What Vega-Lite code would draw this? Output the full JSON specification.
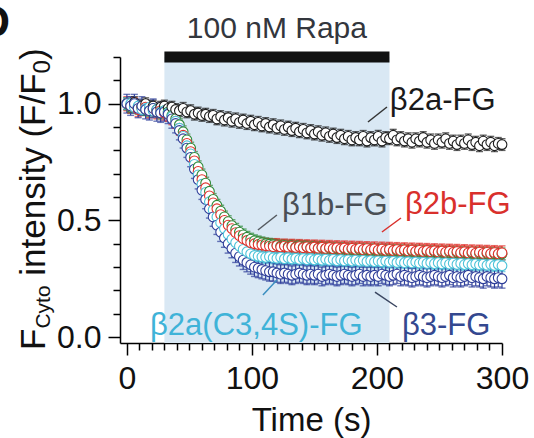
{
  "$schema": "https://vega.github.io/schema/vega-lite/v6.json",
  "width": 382,
  "height": 286,
  "autosize": {"type": "none"},
  "padding": {"left": 120, "top": 57, "right": 32, "bottom": 95},
  "background": "white",
  "config": {"view": {"stroke": null}, "font": "Liberation Sans",
    "axis": {"grid": false, "domainColor": "#000", "domainWidth": 1.5, "tickColor": "#000", "tickWidth": 1.5,
      "labelFont": "Liberation Sans", "labelFontSize": 32, "labelColor": "#111", "labelOverlap": false, "labelFlush": false,
      "titleFont": "Liberation Sans", "titleFontSize": 33, "titleFontWeight": "normal", "titleColor": "#111"}},
  "resolve": {"axis": {"x": "independent", "y": "independent"}},
  "datasets": {
    "main": [
      {"t":0,"a":1.00,"b":1.00,"r":1.00,"c":1.00,"d":1.00},
      {"t":3,"a":0.99,"b":0.985,"r":0.99,"c":1.00,"d":0.99},
      {"t":6,"a":1.005,"b":0.99,"r":0.995,"c":0.985,"d":1.00},
      {"t":9,"a":0.985,"b":0.98,"r":0.975,"c":0.99,"d":0.98},
      {"t":12,"a":0.99,"b":0.985,"r":0.98,"c":0.975,"d":0.99},
      {"t":15,"a":1.00,"b":0.975,"r":0.985,"c":0.98,"d":0.975},
      {"t":18,"a":0.98,"b":0.97,"r":0.97,"c":0.985,"d":0.97},
      {"t":21,"a":0.99,"b":0.98,"r":0.975,"c":0.97,"d":0.98},
      {"t":24,"a":0.975,"b":0.97,"r":0.965,"c":0.975,"d":0.965},
      {"t":27,"a":0.985,"b":0.96,"r":0.97,"c":0.965,"d":0.96},
      {"t":30,"a":0.99,"b":0.97,"r":0.96,"c":0.97,"d":0.965},
      {"t":33,"a":0.98,"b":0.965,"r":0.955,"c":0.96,"d":0.955},
      {"t":36,"a":0.985,"b":0.95,"r":0.94,"c":0.945,"d":0.935},
      {"t":39,"a":0.975,"b":0.935,"r":0.925,"c":0.925,"d":0.915},
      {"t":42,"a":0.97,"b":0.91,"r":0.895,"c":0.895,"d":0.885},
      {"t":45,"a":0.98,"b":0.88,"r":0.865,"c":0.86,"d":0.85},
      {"t":48,"a":0.965,"b":0.845,"r":0.83,"c":0.82,"d":0.81},
      {"t":51,"a":0.97,"b":0.81,"r":0.795,"c":0.785,"d":0.77},
      {"t":54,"a":0.955,"b":0.77,"r":0.755,"c":0.74,"d":0.72},
      {"t":57,"a":0.96,"b":0.73,"r":0.71,"c":0.695,"d":0.675},
      {"t":60,"a":0.95,"b":0.695,"r":0.675,"c":0.655,"d":0.63},
      {"t":63,"a":0.955,"b":0.66,"r":0.64,"c":0.62,"d":0.59},
      {"t":66,"a":0.945,"b":0.625,"r":0.605,"c":0.58,"d":0.55},
      {"t":69,"a":0.95,"b":0.59,"r":0.575,"c":0.545,"d":0.515},
      {"t":72,"a":0.935,"b":0.565,"r":0.55,"c":0.515,"d":0.48},
      {"t":75,"a":0.945,"b":0.54,"r":0.525,"c":0.49,"d":0.45},
      {"t":78,"a":0.93,"b":0.515,"r":0.5,"c":0.465,"d":0.425},
      {"t":81,"a":0.94,"b":0.495,"r":0.48,"c":0.44,"d":0.40},
      {"t":84,"a":0.925,"b":0.478,"r":0.465,"c":0.42,"d":0.38},
      {"t":87,"a":0.935,"b":0.462,"r":0.448,"c":0.405,"d":0.36},
      {"t":90,"a":0.92,"b":0.45,"r":0.435,"c":0.39,"d":0.345},
      {"t":93,"a":0.93,"b":0.438,"r":0.422,"c":0.376,"d":0.33},
      {"t":96,"a":0.915,"b":0.428,"r":0.414,"c":0.366,"d":0.32},
      {"t":99,"a":0.925,"b":0.42,"r":0.405,"c":0.357,"d":0.31},
      {"t":102,"a":0.91,"b":0.413,"r":0.40,"c":0.35,"d":0.30},
      {"t":105,"a":0.92,"b":0.408,"r":0.397,"c":0.347,"d":0.295},
      {"t":108,"a":0.905,"b":0.404,"r":0.395,"c":0.344,"d":0.29},
      {"t":111,"a":0.915,"b":0.40,"r":0.392,"c":0.342,"d":0.285},
      {"t":114,"a":0.90,"b":0.398,"r":0.39,"c":0.345,"d":0.28},
      {"t":117,"a":0.91,"b":0.396,"r":0.388,"c":0.34,"d":0.28},
      {"t":120,"a":0.895,"b":0.394,"r":0.392,"c":0.338,"d":0.275},
      {"t":123,"a":0.905,"b":0.39,"r":0.386,"c":0.342,"d":0.27},
      {"t":126,"a":0.89,"b":0.393,"r":0.39,"c":0.336,"d":0.275},
      {"t":129,"a":0.90,"b":0.388,"r":0.385,"c":0.34,"d":0.27},
      {"t":132,"a":0.885,"b":0.391,"r":0.389,"c":0.335,"d":0.265},
      {"t":135,"a":0.895,"b":0.386,"r":0.384,"c":0.338,"d":0.27},
      {"t":138,"a":0.88,"b":0.39,"r":0.388,"c":0.333,"d":0.275},
      {"t":141,"a":0.89,"b":0.385,"r":0.383,"c":0.337,"d":0.27},
      {"t":144,"a":0.875,"b":0.388,"r":0.387,"c":0.332,"d":0.265},
      {"t":147,"a":0.885,"b":0.383,"r":0.382,"c":0.336,"d":0.27},
      {"t":150,"a":0.87,"b":0.386,"r":0.386,"c":0.331,"d":0.265},
      {"t":153,"a":0.88,"b":0.381,"r":0.381,"c":0.335,"d":0.27},
      {"t":156,"a":0.865,"b":0.384,"r":0.385,"c":0.33,"d":0.26},
      {"t":159,"a":0.875,"b":0.379,"r":0.38,"c":0.334,"d":0.265},
      {"t":162,"a":0.86,"b":0.382,"r":0.384,"c":0.329,"d":0.27},
      {"t":165,"a":0.87,"b":0.377,"r":0.379,"c":0.333,"d":0.265},
      {"t":168,"a":0.855,"b":0.38,"r":0.383,"c":0.328,"d":0.26},
      {"t":171,"a":0.865,"b":0.376,"r":0.378,"c":0.332,"d":0.265},
      {"t":174,"a":0.85,"b":0.379,"r":0.382,"c":0.327,"d":0.27},
      {"t":177,"a":0.86,"b":0.374,"r":0.377,"c":0.331,"d":0.265},
      {"t":180,"a":0.845,"b":0.377,"r":0.381,"c":0.326,"d":0.26},
      {"t":183,"a":0.855,"b":0.373,"r":0.376,"c":0.33,"d":0.265},
      {"t":186,"a":0.845,"b":0.376,"r":0.38,"c":0.325,"d":0.27},
      {"t":189,"a":0.86,"b":0.372,"r":0.375,"c":0.329,"d":0.26},
      {"t":192,"a":0.84,"b":0.375,"r":0.379,"c":0.324,"d":0.265},
      {"t":195,"a":0.855,"b":0.371,"r":0.374,"c":0.328,"d":0.26},
      {"t":198,"a":0.845,"b":0.374,"r":0.378,"c":0.323,"d":0.265},
      {"t":201,"a":0.86,"b":0.37,"r":0.373,"c":0.327,"d":0.26},
      {"t":204,"a":0.84,"b":0.373,"r":0.377,"c":0.322,"d":0.27},
      {"t":207,"a":0.855,"b":0.369,"r":0.372,"c":0.326,"d":0.265},
      {"t":210,"a":0.85,"b":0.372,"r":0.376,"c":0.321,"d":0.26},
      {"t":213,"a":0.865,"b":0.368,"r":0.371,"c":0.325,"d":0.265},
      {"t":216,"a":0.845,"b":0.371,"r":0.375,"c":0.32,"d":0.27},
      {"t":219,"a":0.855,"b":0.367,"r":0.37,"c":0.324,"d":0.26},
      {"t":222,"a":0.84,"b":0.37,"r":0.374,"c":0.319,"d":0.265},
      {"t":225,"a":0.85,"b":0.366,"r":0.369,"c":0.323,"d":0.26},
      {"t":228,"a":0.835,"b":0.369,"r":0.373,"c":0.318,"d":0.255},
      {"t":231,"a":0.85,"b":0.365,"r":0.368,"c":0.322,"d":0.26},
      {"t":234,"a":0.84,"b":0.368,"r":0.372,"c":0.317,"d":0.265},
      {"t":237,"a":0.855,"b":0.364,"r":0.367,"c":0.321,"d":0.26},
      {"t":240,"a":0.835,"b":0.367,"r":0.371,"c":0.316,"d":0.255},
      {"t":243,"a":0.845,"b":0.363,"r":0.366,"c":0.32,"d":0.26},
      {"t":246,"a":0.83,"b":0.366,"r":0.37,"c":0.315,"d":0.265},
      {"t":249,"a":0.845,"b":0.362,"r":0.365,"c":0.319,"d":0.26},
      {"t":252,"a":0.835,"b":0.365,"r":0.369,"c":0.314,"d":0.255},
      {"t":255,"a":0.85,"b":0.361,"r":0.364,"c":0.318,"d":0.26},
      {"t":258,"a":0.83,"b":0.364,"r":0.368,"c":0.313,"d":0.265},
      {"t":261,"a":0.84,"b":0.36,"r":0.363,"c":0.317,"d":0.255},
      {"t":264,"a":0.825,"b":0.363,"r":0.367,"c":0.312,"d":0.26},
      {"t":267,"a":0.84,"b":0.359,"r":0.362,"c":0.316,"d":0.255},
      {"t":270,"a":0.83,"b":0.362,"r":0.366,"c":0.311,"d":0.26},
      {"t":273,"a":0.845,"b":0.358,"r":0.361,"c":0.315,"d":0.265},
      {"t":276,"a":0.825,"b":0.361,"r":0.365,"c":0.31,"d":0.255},
      {"t":279,"a":0.835,"b":0.357,"r":0.36,"c":0.314,"d":0.26},
      {"t":282,"a":0.82,"b":0.36,"r":0.364,"c":0.309,"d":0.255},
      {"t":285,"a":0.84,"b":0.356,"r":0.359,"c":0.313,"d":0.25},
      {"t":288,"a":0.825,"b":0.359,"r":0.363,"c":0.308,"d":0.26},
      {"t":291,"a":0.835,"b":0.355,"r":0.358,"c":0.312,"d":0.255},
      {"t":294,"a":0.82,"b":0.358,"r":0.362,"c":0.307,"d":0.25},
      {"t":297,"a":0.83,"b":0.354,"r":0.357,"c":0.311,"d":0.255},
      {"t":300,"a":0.825,"b":0.357,"r":0.361,"c":0.306,"d":0.25}
    ],
    "sem": [
      {"s":"a","err":0.025},
      {"s":"b","err":0.025},
      {"s":"r","err":0.03},
      {"s":"c","err":0.025},
      {"s":"d","err":0.04}
    ]
  },
  "layer": [
    {
      "data": {"values": [{}]},
      "mark": {"type": "rect", "color": "#d9e8f4"},
      "encoding": {
        "x": {"datum": 30, "type": "quantitative", "scale": {"domain": [-5.5, 300], "nice": false, "zero": false},
          "axis": {
            "values": [0,10,20,30,40,50,60,70,80,90,100,110,120,130,140,150,160,170,180,190,200,210,220,230,240,250,260,270,280,290,300],
            "labelExpr": "datum.value % 100 == 0 ? format(datum.value, 'd') : ''",
            "tickSize": {"condition": {"test": "datum.value % 100 == 0", "value": 12}, "value": 7},
            "labelPadding": 8,
            "title": "Time (s)", "titlePadding": 10
          }},
        "x2": {"datum": 210},
        "y": {"datum": -0.025, "type": "quantitative", "scale": {"domain": [-0.025, 1.2], "nice": false, "zero": false},
          "axis": {
            "values": [0,0.1,0.2,0.3,0.4,0.5,0.6,0.7,0.8,0.9,1.0,1.1,1.2],
            "labelExpr": "abs(datum.value*2 - round(datum.value*2)) < 0.001 ? format(datum.value, '.1f') : ''",
            "tickSize": {"condition": {"test": "abs(datum.value*2 - round(datum.value*2)) < 0.001", "value": 12}, "value": 7},
            "labelPadding": 7,
            "title": null
          }},
        "y2": {"datum": 1.2}
      }
    },
    {
      "data": {"values": [{}]},
      "mark": {"type": "rect", "color": "#111111"},
      "encoding": {
        "x": {"datum": 30, "type": "quantitative", "axis": null},
        "x2": {"datum": 210},
        "y": {"datum": 1.176, "type": "quantitative", "axis": null},
        "y2": {"datum": 1.224}
      }
    },
    {
      "data": {"name": "main"},
      "transform": [
        {"fold": ["a", "b", "r", "c", "d"], "as": ["s", "v"]},
        {"lookup": "s", "from": {"data": {"name": "sem"}, "key": "s", "fields": ["err"]}}
      ],
      "mark": {"type": "errorbar", "ticks": {"size": 7, "thickness": 1.4}, "rule": {"strokeWidth": 1.2}},
      "encoding": {
        "x": {"field": "t", "type": "quantitative", "axis": null},
        "y": {"field": "v", "type": "quantitative", "axis": null},
        "yError": {"field": "err"},
        "color": {"field": "s", "type": "nominal", "legend": null,
          "scale": {"domain": ["a", "b", "r", "c", "d"], "range": ["#1e1e1e", "#2e8b3a", "#e0302a", "#4cc3d9", "#2f3f9a"]}}
      }
    },
    {
      "data": {"name": "main"},
      "transform": [
        {"fold": ["a", "b", "r", "c", "d"], "as": ["s", "v"]}
      ],
      "mark": {"type": "point", "shape": "circle", "fill": "white", "fillOpacity": 1, "strokeWidth": 1.1, "size": 95, "opacity": 1},
      "encoding": {
        "x": {"field": "t", "type": "quantitative", "axis": null},
        "y": {"field": "v", "type": "quantitative", "axis": null},
        "stroke": {"field": "s", "type": "nominal", "legend": null,
          "scale": {"domain": ["a", "b", "r", "c", "d"], "range": ["#1e1e1e", "#2e8b3a", "#e0302a", "#4cc3d9", "#2f3f9a"]}}
      }
    },
    {
      "data": {"values": [{}]},
      "mark": {"type": "rule", "color": "#333333", "strokeWidth": 1.5},
      "encoding": {"x": {"datum": 192.8, "type": "quantitative", "axis": null}, "y": {"datum": 0.9216, "type": "quantitative", "axis": null}, "x2": {"datum": 208}, "y2": {"datum": 0.9858}}
    },
    {
      "data": {"values": [{}]},
      "mark": {"type": "rule", "color": "#555a60", "strokeWidth": 1.5},
      "encoding": {"x": {"datum": 104.8, "type": "quantitative", "axis": null}, "y": {"datum": 0.459, "type": "quantitative", "axis": null}, "x2": {"datum": 120}, "y2": {"datum": 0.5233}}
    },
    {
      "data": {"values": [{}]},
      "mark": {"type": "rule", "color": "#d9302c", "strokeWidth": 1.5},
      "encoding": {"x": {"datum": 204, "type": "quantitative", "axis": null}, "y": {"datum": 0.4504, "type": "quantitative", "axis": null}, "x2": {"datum": 219.2}, "y2": {"datum": 0.5104}}
    },
    {
      "data": {"values": [{}]},
      "mark": {"type": "rule", "color": "#3b8fc0", "strokeWidth": 1.5},
      "encoding": {"x": {"datum": 120, "type": "quantitative", "axis": null}, "y": {"datum": 0.2449, "type": "quantitative", "axis": null}, "x2": {"datum": 108.8}, "y2": {"datum": 0.1806}}
    },
    {
      "data": {"values": [{}]},
      "mark": {"type": "rule", "color": "#3a4660", "strokeWidth": 1.5},
      "encoding": {"x": {"datum": 198.4, "type": "quantitative", "axis": null}, "y": {"datum": 0.1934, "type": "quantitative", "axis": null}, "x2": {"datum": 216}, "y2": {"datum": 0.1292}}
    },
    {
      "data": {"values": [{}]},
      "mark": {"type": "text", "text": "β2a-FG", "font": "Liberation Sans", "fontSize": 31, "color": "#1a1a1a", "align": "left", "baseline": "alphabetic"},
      "encoding": {"x": {"datum": 210.3, "type": "quantitative", "axis": null}, "y": {"datum": 0.973, "type": "quantitative", "axis": null}}
    },
    {
      "data": {"values": [{}]},
      "mark": {"type": "text", "text": "β1b-FG", "font": "Liberation Sans", "fontSize": 31, "color": "#4a4f55", "align": "left", "baseline": "alphabetic"},
      "encoding": {"x": {"datum": 124, "type": "quantitative", "axis": null}, "y": {"datum": 0.5233, "type": "quantitative", "axis": null}}
    },
    {
      "data": {"values": [{}]},
      "mark": {"type": "text", "text": "β2b-FG", "font": "Liberation Sans", "fontSize": 31, "color": "#d9302c", "align": "left", "baseline": "alphabetic"},
      "encoding": {"x": {"datum": 222.4, "type": "quantitative", "axis": null}, "y": {"datum": 0.5275, "type": "quantitative", "axis": null}}
    },
    {
      "data": {"values": [{}]},
      "mark": {"type": "text", "text": "β2a(C3,4S)-FG", "font": "Liberation Sans", "fontSize": 31, "color": "#3fb3d8", "align": "left", "baseline": "alphabetic"},
      "encoding": {"x": {"datum": 18.5, "type": "quantitative", "axis": null}, "y": {"datum": 0.0093, "type": "quantitative", "axis": null}}
    },
    {
      "data": {"values": [{}]},
      "mark": {"type": "text", "text": "β3-FG", "font": "Liberation Sans", "fontSize": 31, "color": "#34488f", "align": "left", "baseline": "alphabetic"},
      "encoding": {"x": {"datum": 220, "type": "quantitative", "axis": null}, "y": {"datum": 0.0093, "type": "quantitative", "axis": null}}
    },
    {
      "data": {"values": [{}]},
      "mark": {"type": "text", "text": "100 nM Rapa", "font": "Liberation Sans", "fontSize": 30, "color": "#33363d", "align": "center", "baseline": "alphabetic"},
      "encoding": {"x": {"datum": 120, "type": "quantitative", "axis": null}, "y": {"datum": 1.2814, "type": "quantitative", "axis": null}}
    },
    {
      "data": {"values": [{}]},
      "mark": {"type": "text", "text": "D", "font": "Liberation Sans", "fontSize": 44, "fontWeight": "bold", "color": "#111", "align": "right", "baseline": "alphabetic"},
      "encoding": {"x": {"datum": -93.5, "type": "quantitative", "axis": null}, "y": {"datum": 1.2857, "type": "quantitative", "axis": null}}
    },
    {
      "data": {"values": [{}]},
      "mark": {"type": "text", "text": "F", "font": "Liberation Sans", "fontSize": 35, "color": "#111", "align": "left", "baseline": "alphabetic", "angle": -90},
      "encoding": {"x": {"datum": -65.5, "type": "quantitative", "axis": null}, "y": {"datum": -0.055, "type": "quantitative", "axis": null}}
    },
    {
      "data": {"values": [{}]},
      "mark": {"type": "text", "text": "Cyto", "font": "Liberation Sans", "fontSize": 21, "color": "#111", "align": "left", "baseline": "alphabetic", "angle": -90},
      "encoding": {"x": {"datum": -61.5, "type": "quantitative", "axis": null}, "y": {"datum": 0.0367, "type": "quantitative", "axis": null}}
    },
    {
      "data": {"values": [{}]},
      "mark": {"type": "text", "text": "intensity (F/F", "font": "Liberation Sans", "fontSize": 35, "color": "#111", "align": "left", "baseline": "alphabetic", "angle": -90},
      "encoding": {"x": {"datum": -65.5, "type": "quantitative", "axis": null}, "y": {"datum": 0.2633, "type": "quantitative", "axis": null}}
    },
    {
      "data": {"values": [{}]},
      "mark": {"type": "text", "text": "0", "font": "Liberation Sans", "fontSize": 24, "color": "#111", "align": "left", "baseline": "alphabetic", "angle": -90},
      "encoding": {"x": {"datum": -61.5, "type": "quantitative", "axis": null}, "y": {"datum": 1.1298, "type": "quantitative", "axis": null}}
    },
    {
      "data": {"values": [{}]},
      "mark": {"type": "text", "text": ")", "font": "Liberation Sans", "fontSize": 35, "color": "#111", "align": "left", "baseline": "alphabetic", "angle": -90},
      "encoding": {"x": {"datum": -65.5, "type": "quantitative", "axis": null}, "y": {"datum": 1.1867, "type": "quantitative", "axis": null}}
    }
  ]
}
